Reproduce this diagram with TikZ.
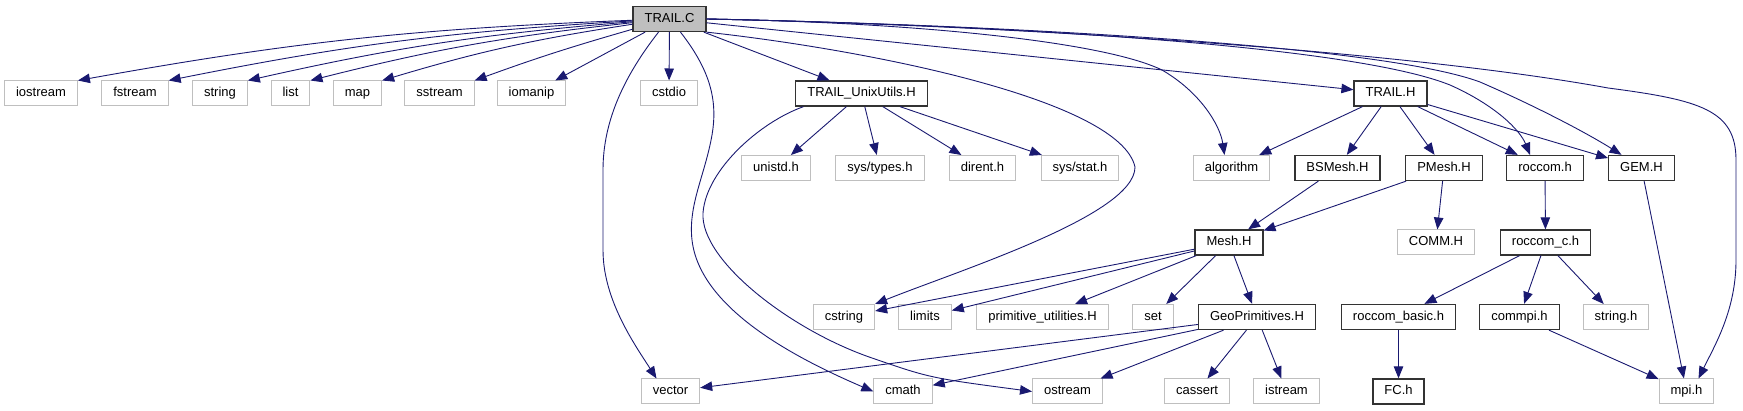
\documentclass[tikz,border=0pt]{standalone}
\usepackage{fontspec}
\setmainfont{Liberation Sans}
\usetikzlibrary{arrows.meta}

\definecolor{incblue}{HTML}{191970}
\definecolor{extgray}{HTML}{BFBFBF}

\tikzset{
  hfile/.style={draw=black!80, line width=1.3pt, inner xsep=11.5pt, inner ysep=0pt,
    minimum height=25pt, text height=9.5pt, text depth=2.5pt, font=\fontsize{13}{15}\selectfont},
  extfile/.style={hfile, draw=extgray, line width=1pt},
  inc/.style={draw=incblue, line width=0.9pt, -{Triangle[length=12pt,width=9.5pt]}}
}

\begin{document}
\begin{tikzpicture}[x=1pt, y=-1pt]
  \useasboundingbox (0,0) rectangle (1743,411);

  % Top file
  \node[hfile, fill=extgray] (trailc) at (669.5,19) {TRAIL.C};

  % Row 1
  \node[extfile] (iostream) at (41,93.5) {iostream};
  \node[extfile] (fstream) at (135,93.5) {fstream};
  \node[extfile] (stdstring) at (220,93.5) {string};
  \node[extfile] (list) at (290.5,93.5) {list};
  \node[extfile] (map) at (357.5,93.5) {map};
  \node[extfile] (sstream) at (439.5,93.5) {sstream};
  \node[extfile] (iomanip) at (531.5,93.5) {iomanip};
  \node[extfile] (cstdio) at (669,93.5) {cstdio};
  \node[hfile] (unix) at (861.5,93.5) {TRAIL\_UnixUtils.H};
  \node[hfile] (trailh) at (1390.5,93.5) {TRAIL.H};

  % Row 2
  \node[extfile] (unistd) at (776,168) {unistd.h};
  \node[extfile] (systypes) at (880,168) {sys/types.h};
  \node[extfile] (dirent) at (982.5,168) {dirent.h};
  \node[extfile] (sysstat) at (1080,168) {sys/stat.h};
  \node[extfile] (algorithm) at (1231.5,168) {algorithm};
  \node[hfile] (bsmesh) at (1337.5,168) {BSMesh.H};
  \node[hfile] (pmesh) at (1444,168) {PMesh.H};
  \node[hfile] (roccom) at (1545,168) {roccom.h};
  \node[hfile] (gem) at (1641.5,168) {GEM.H};

  % Row 3
  \node[hfile] (mesh) at (1229,242.5) {Mesh.H};
  \node[extfile] (comm) at (1436,242.5) {COMM.H};
  \node[hfile] (roccomc) at (1545.5,242.5) {roccom\_c.h};

  % Row 4
  \node[extfile] (cstring) at (844,317) {cstring};
  \node[extfile] (limits) at (925,317) {limits};
  \node[extfile] (primutil) at (1042.5,317) {primitive\_utilities.H};
  \node[extfile] (set) at (1153,317) {set};
  \node[hfile] (geoprim) at (1257,317) {GeoPrimitives.H};
  \node[hfile] (roccombasic) at (1398.5,317) {roccom\_basic.h};
  \node[hfile] (commpi) at (1519.5,317) {commpi.h};
  \node[extfile] (stringh) at (1616,317) {string.h};

  % Row 5
  \node[extfile] (vector) at (670.5,391.5) {vector};
  \node[extfile] (cmath) at (903,391.5) {cmath};
  \node[extfile] (ostream) at (1067.5,391.5) {ostream};
  \node[extfile] (cassert) at (1197,391.5) {cassert};
  \node[extfile] (istream) at (1286.5,391.5) {istream};
  \node[hfile] (fc) at (1398.5,391.5) {FC.h};
  \node[extfile] (mpi) at (1686.5,391.5) {mpi.h};

  % Includes of TRAIL.C
  \foreach \f in {iostream,fstream,stdstring,list,map}
    \draw[inc] (trailc) to[bend right=4] (\f.north east);
  \draw[inc] (trailc) to[bend right=2] (sstream.north east);
  \draw[inc] (trailc) -- ([xshift=-11pt]iomanip.north east);
  \draw[inc] (trailc) -- (cstdio);
  \draw[inc] (trailc) -- ([xshift=-32pt]unix.north);
  \draw[inc] (trailc) -- (trailh);
  \draw[inc] ([xshift=-11pt]trailc.south) .. controls (625,75) and (603,120) .. (603,170)
    -- (603,250) .. controls (603,300) and (635,345) .. ([xshift=-14pt]vector.north);
  \draw[inc] ([xshift=11pt]trailc.south) .. controls (710,70) and (718,100) .. (712,135)
    .. controls (705,175) and (688,205) .. (692,240) .. controls (700,310) and (800,360) .. (cmath.west);
  \draw[inc] (trailc.south east) .. controls (870,50) and (1120,100) .. (1135,167)
    .. controls (1135,215) and (960,270) .. (cstring.north east);
  \draw[inc] (trailc.east) .. controls (900,22) and (1100,40) .. (1162,70)
    .. controls (1200,92) and (1220,125) .. ([xshift=-7pt]algorithm.north);
  \draw[inc] (trailc.east) .. controls (1000,25) and (1350,45) .. (1450,85)
    .. controls (1495,105) and (1520,130) .. ([xshift=-15pt]roccom.north);
  \draw[inc] (trailc.east) .. controls (1000,25) and (1380,45) .. (1480,82)
    .. controls (1540,108) and (1590,135) .. ([xshift=-20pt]gem.north);
  \draw[inc] (trailc.east) .. controls (1000,25) and (1400,50) .. (1608,88)
    .. controls (1700,100) and (1736,110) .. (1736,160) -- (1736,260)
    .. controls (1736,310) and (1715,345) .. ([xshift=12pt]mpi.north);

  % TRAIL_UnixUtils.H
  \foreach \f in {unistd,systypes,dirent,sysstat}
    \draw[inc] (unix) -- (\f);
  \draw[inc] ([xshift=-58pt]unix.south) .. controls (760,122) and (706,170) .. (703,213)
    .. controls (700,260) and (790,330) .. (872,358) .. controls (930,378) .. (ostream.west);

  % TRAIL.H
  \foreach \f in {algorithm,bsmesh,pmesh,roccom,gem}
    \draw[inc] (trailh) -- (\f);
  \draw[inc] (gem) -- (mpi);

  % meshes
  \draw[inc] (bsmesh) -- (mesh);
  \draw[inc] (pmesh) -- (mesh);
  \draw[inc] (pmesh) -- (comm);
  \foreach \f in {cstring,limits,primutil,set,geoprim}
    \draw[inc] (mesh) -- (\f);
  \foreach \f in {vector,cmath,ostream,cassert,istream}
    \draw[inc] (geoprim) -- (\f);

  % roccom
  \draw[inc] (roccom) -- (roccomc);
  \foreach \f in {roccombasic,commpi,stringh}
    \draw[inc] (roccomc) -- (\f);
  \draw[inc] (roccombasic) -- (fc);
  \draw[inc] (commpi) -- (mpi);
\end{tikzpicture}
\end{document}
